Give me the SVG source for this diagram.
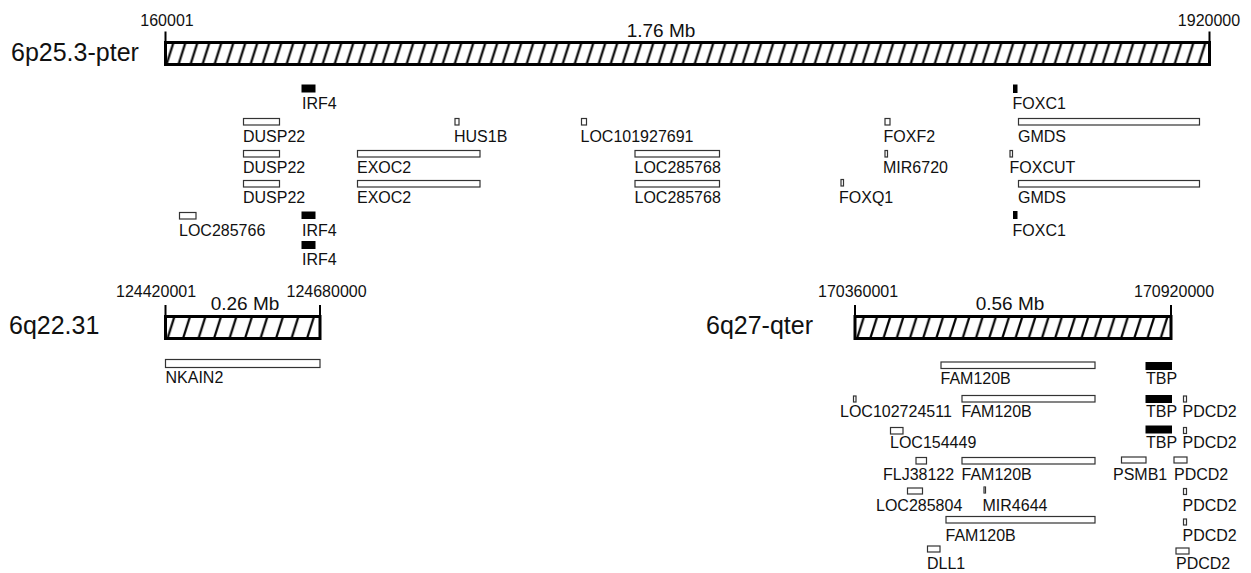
<svg xmlns="http://www.w3.org/2000/svg" width="1251" height="573" viewBox="0 0 1251 573">
<style>
  text { font-family: "Liberation Sans", Arial, sans-serif; fill: #111; }
  .lbl { font-size: 16px; }
  .coord { font-size: 16px; }
  .chr { font-size: 25px; }
  .scale { font-size: 19px; }
  .gene { fill: #fff; stroke: #333; stroke-width: 1.2; }
  .solid { fill: #000; stroke: #000; stroke-width: 1; }
  .bar { stroke: #000; stroke-width: 3; }
  .tick { stroke: #000; stroke-width: 2; fill: none; }
  .hl { stroke: #000; stroke-width: 2.2; fill: none; }
</style>
<defs>
  <pattern id="hatchTop" patternUnits="userSpaceOnUse" x="165.5" y="42.5" width="12" height="22">
    <path class="hl" d="M-11,22 L-4,0 M1,22 L8,0 M13,22 L20,0"/>
  </pattern>
  <pattern id="hatchLeft" patternUnits="userSpaceOnUse" x="165.5" y="316.5" width="15.5" height="22">
    <path class="hl" d="M-13.5,22 L-6.5,0 M2,22 L9,0 M17.5,22 L24.5,0"/>
  </pattern>
  <pattern id="hatchRight" patternUnits="userSpaceOnUse" x="855" y="316.5" width="13.2" height="22">
    <path class="hl" d="M-11.2,22 L-4.2,0 M2,22 L9,0 M15.2,22 L22.2,0"/>
  </pattern>
</defs>

<g id="connectors"></g>

<!-- Chromosome segment 6p25.3-pter -->
<g id="chr-6p25">
  <text class="chr" x="11" y="61">6p25.3-pter</text>
  <rect class="bar" x="165.5" y="42.5" width="1044" height="22" fill="url(#hatchTop)"/>
  <path class="tick" d="M165.5,31.5 V42.5 M1209.5,31.5 V42.5"/>
  <text class="coord" x="167" y="26" text-anchor="middle">160001</text>
  <text class="coord" x="1209" y="26" text-anchor="middle">1920000</text>
  <text class="scale" x="661" y="37" text-anchor="middle">1.76 Mb</text>
</g>

<!-- Chromosome segment 6q22.31 -->
<g id="chr-6q22">
  <text class="chr" x="9" y="334">6q22.31</text>
  <rect class="bar" x="165.5" y="316.5" width="154.5" height="22" fill="url(#hatchLeft)"/>
  <path class="tick" d="M165.5,305 V316.5 M320,305 V316.5"/>
  <text class="coord" x="116" y="297">124420001</text>
  <text class="coord" x="286.5" y="297">124680000</text>
  <text class="scale" x="245" y="310" text-anchor="middle">0.26 Mb</text>
</g>

<!-- Chromosome segment 6q27-qter -->
<g id="chr-6q27">
  <text class="chr" x="706" y="334">6q27-qter</text>
  <rect class="bar" x="855" y="316.5" width="316" height="22" fill="url(#hatchRight)"/>
  <path class="tick" d="M855,305 V316.5 M1171,305 V316.5"/>
  <text class="coord" x="818" y="297">170360001</text>
  <text class="coord" x="1134" y="297">170920000</text>
  <text class="scale" x="1010" y="310" text-anchor="middle">0.56 Mb</text>
</g>

<!-- Top genes -->
<g id="g-irf4-1"><rect class="solid" x="302" y="85" width="13" height="7"/><text class="lbl" x="302" y="109">IRF4</text></g>
<g id="g-fox-c1-1"><rect class="solid" x="1013.5" y="85" width="3.5" height="7.5"/><text class="lbl" x="1012.5" y="109">FOXC1</text></g>

<g id="g-dusp22-1"><rect class="gene" x="243.5" y="118.5" width="36" height="6.5"/><text class="lbl" x="243" y="141.5">DUSP22</text></g>
<g id="g-hus1b"><rect class="gene" x="455" y="118.5" width="4" height="6.5"/><text class="lbl" x="454" y="141.5">HUS1B</text></g>
<g id="g-loc101927691"><rect class="gene" x="581.5" y="118.5" width="5" height="6.5"/><text class="lbl" x="580.5" y="141.5">LOC101927691</text></g>
<g id="g-foxf2"><rect class="gene" x="885" y="118.5" width="5" height="6.5"/><text class="lbl" x="883.5" y="141.5">FOXF2</text></g>
<g id="g-gmds-1"><rect class="gene" x="1018.5" y="118.5" width="181" height="6.5"/><text class="lbl" x="1018" y="141.5">GMDS</text></g>

<g id="g-dusp22-2"><rect class="gene" x="243.5" y="150.5" width="36" height="6.5"/><text class="lbl" x="243" y="173">DUSP22</text></g>
<g id="g-exoc2-1"><rect class="gene" x="357.5" y="150.5" width="122.5" height="6.5"/><text class="lbl" x="357" y="173">EXOC2</text></g>
<g id="g-loc285768-1"><rect class="gene" x="635" y="150.5" width="84.5" height="6.5"/><text class="lbl" x="634.5" y="173">LOC285768</text></g>
<g id="g-mir6720"><rect class="gene" x="885" y="150.5" width="2.5" height="6.5"/><text class="lbl" x="883" y="173">MIR6720</text></g>
<g id="g-foxcut"><rect class="gene" x="1010" y="150.5" width="2.5" height="6.5"/><text class="lbl" x="1009.5" y="173">FOXCUT</text></g>

<g id="g-dusp22-3"><rect class="gene" x="243.5" y="180.5" width="36" height="6.5"/><text class="lbl" x="243" y="203">DUSP22</text></g>
<g id="g-exoc2-2"><rect class="gene" x="357.5" y="180.5" width="122.5" height="6.5"/><text class="lbl" x="357" y="203">EXOC2</text></g>
<g id="g-loc285768-2"><rect class="gene" x="635" y="180.5" width="84.5" height="6.5"/><text class="lbl" x="634.5" y="203">LOC285768</text></g>
<g id="g-foxq1"><rect class="gene" x="841" y="179.5" width="2.5" height="6.5"/><text class="lbl" x="839" y="203">FOXQ1</text></g>
<g id="g-gmds-2"><rect class="gene" x="1018.5" y="180.5" width="181" height="6.5"/><text class="lbl" x="1018" y="203">GMDS</text></g>

<g id="g-loc285766"><rect class="gene" x="179.5" y="212.5" width="16.5" height="6.5"/><text class="lbl" x="179" y="235.5">LOC285766</text></g>
<g id="g-irf4-2"><rect class="solid" x="302" y="212" width="13" height="6.5"/><text class="lbl" x="302" y="235.5">IRF4</text></g>
<g id="g-foxc1-2"><rect class="solid" x="1013.5" y="211.5" width="3.5" height="7"/><text class="lbl" x="1012.5" y="235.5">FOXC1</text></g>

<g id="g-irf4-3"><rect class="solid" x="302" y="241.5" width="13" height="7"/><text class="lbl" x="302" y="265">IRF4</text></g>

<!-- 6q22.31 genes -->
<g id="g-nkain2"><rect class="gene" x="165.5" y="359.5" width="154.5" height="8"/><text class="lbl" x="165.5" y="383">NKAIN2</text></g>

<!-- 6q27-qter genes -->
<g id="g-fam120b-1"><rect class="gene" x="941" y="362" width="154" height="6.5"/><text class="lbl" x="940.5" y="384">FAM120B</text></g>
<g id="g-tbp-1"><rect class="solid" x="1146" y="362.5" width="25.5" height="7"/><text class="lbl" x="1146" y="384">TBP</text></g>

<g id="g-loc102724511"><rect class="gene" x="853.5" y="396" width="2.5" height="6"/><text class="lbl" x="840" y="416.5">LOC102724511</text></g>
<g id="g-fam120b-2"><rect class="gene" x="962" y="395.5" width="133" height="6.5"/><text class="lbl" x="961.5" y="416.5">FAM120B</text></g>
<g id="g-tbp-2"><rect class="solid" x="1146" y="395.5" width="25.5" height="7"/><text class="lbl" x="1146" y="416.5">TBP</text></g>
<g id="g-pdcd2-1"><rect class="gene" x="1183.5" y="396" width="3" height="6"/><text class="lbl" x="1182.5" y="416.5">PDCD2</text></g>

<g id="g-loc154449"><rect class="gene" x="890.5" y="427.5" width="12.5" height="6.5"/><text class="lbl" x="890" y="448">LOC154449</text></g>
<g id="g-tbp-3"><rect class="solid" x="1146" y="426" width="25.5" height="7"/><text class="lbl" x="1146" y="448">TBP</text></g>
<g id="g-pdcd2-2"><rect class="gene" x="1183.5" y="427.5" width="3" height="6"/><text class="lbl" x="1182.5" y="448">PDCD2</text></g>

<g id="g-flj38122"><rect class="gene" x="916" y="457.5" width="10.5" height="6.5"/><text class="lbl" x="883" y="479.5">FLJ38122</text></g>
<g id="g-fam120b-3"><rect class="gene" x="962" y="457.5" width="133" height="6.5"/><text class="lbl" x="961.5" y="479.5">FAM120B</text></g>
<g id="g-psmb1"><rect class="gene" x="1121.5" y="457" width="24.5" height="6"/><text class="lbl" x="1113" y="479.5">PSMB1</text></g>
<g id="g-pdcd2-3"><rect class="gene" x="1174" y="457" width="13" height="6"/><text class="lbl" x="1174" y="479.5">PDCD2</text></g>

<g id="g-loc285804"><rect class="gene" x="907.5" y="488" width="15" height="6"/><text class="lbl" x="876" y="510.5">LOC285804</text></g>
<g id="g-mir4644"><rect class="gene" x="984" y="487" width="1.5" height="6"/><text class="lbl" x="982.5" y="510.5">MIR4644</text></g>
<g id="g-pdcd2-4"><rect class="gene" x="1183.5" y="488.5" width="3" height="6"/><text class="lbl" x="1182.5" y="510.5">PDCD2</text></g>

<g id="g-fam120b-4"><rect class="gene" x="946" y="516.5" width="149" height="6.5"/><text class="lbl" x="945.5" y="541">FAM120B</text></g>
<g id="g-pdcd2-5"><rect class="gene" x="1183.5" y="519" width="3" height="6"/><text class="lbl" x="1182.5" y="541">PDCD2</text></g>

<g id="g-dll1"><rect class="gene" x="927.5" y="546" width="12.5" height="6"/><text class="lbl" x="927" y="569">DLL1</text></g>
<g id="g-pdcd2-6"><rect class="gene" x="1176" y="548" width="13" height="6"/><text class="lbl" x="1176" y="569">PDCD2</text></g>
</svg>
